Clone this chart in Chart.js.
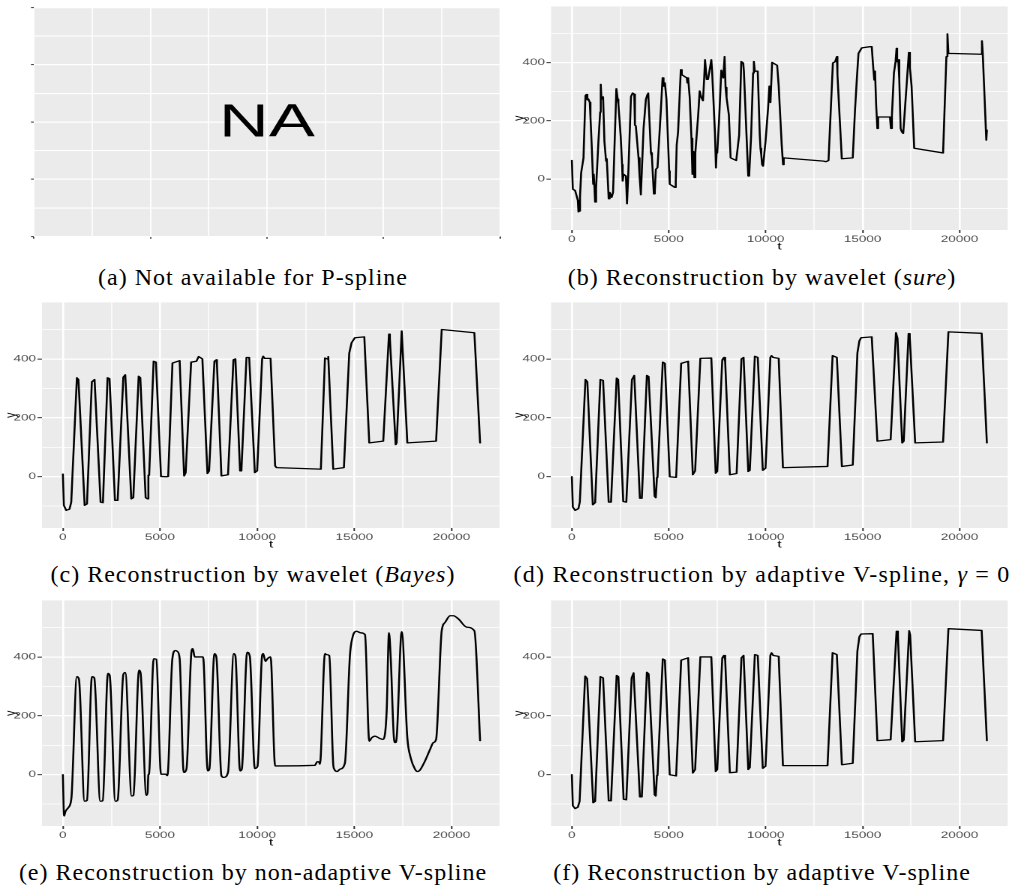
<!DOCTYPE html>
<html>
<head>
<meta charset="utf-8">
<script src="https://cdn.jsdelivr.net/npm/chart.js@4.4.0/dist/chart.umd.min.js"></script>
<style>
  body { margin: 0; background: #fff; width: 1016px; height: 894px; position: relative; overflow: hidden; }
  .panel { position: absolute; transform: scaleX(1.5); transform-origin: 0 0; }
  .cap { position: absolute; width: 508px; text-align: center; font-family: "Liberation Serif", serif;
         font-size: 24px; line-height: 1; letter-spacing: 1px; white-space: nowrap; color: #000; }
</style>
</head>
<body>
<div class="panel" id="pa"><canvas id="ca"></canvas></div>
<div class="panel" id="pb"><canvas id="cb"></canvas></div>
<div class="panel" id="pc"><canvas id="cc"></canvas></div>
<div class="panel" id="pd"><canvas id="cd"></canvas></div>
<div class="panel" id="pe"><canvas id="ce"></canvas></div>
<div class="panel" id="pf"><canvas id="cf"></canvas></div>

<div class="cap" style="left:-1px;top:265px">(a) Not available for P-spline</div>
<div class="cap" style="left:508px;top:265px">(b) Reconstruction by wavelet (<i>sure</i>)</div>
<div class="cap" style="left:-1px;top:562px">(c) Reconstruction by wavelet (<i>Bayes</i>)</div>
<div class="cap" style="left:508px;top:562px;letter-spacing:1.2px">(d) Reconstruction by adaptive V-spline, <i>γ</i>&nbsp;=&nbsp;0</div>
<div class="cap" style="left:-1px;top:860px">(e) Reconstruction by non-adaptive V-spline</div>
<div class="cap" style="left:508px;top:860px">(f) Reconstruction by adaptive V-spline</div>

<script>
// axis breaks
const xTicks = [0, 2500, 5000, 7500, 10000, 12500, 15000, 17500, 20000, 22500];
const xTickLabels = ['0', '', '5000', '', '10000', '', '15000', '', '20000', ''];
const yTicks = [-100, 0, 100, 200, 300, 400, 500];
const yTickLabels = ['', '0', '', '200', '', '400', ''];
const naTicks = [0, 1, 2, 3, 4, 5, 6, 7, 8];
const naMajor = [true, false, true, false, true, false, true, false, true];

// (b) wavelet, sure
const tB = [0, 50, 170, 310, 340, 390, 420, 480, 600, 700, 750, 800, 850, 925, 960, 1030, 1100, 1130, 1200, 1250,
  1370, 1460, 1490, 1525, 1610, 1680, 1765, 1800, 1900, 1950, 2055, 2125, 2295, 2365, 2400, 2520, 2590, 2620, 2670, 2790,
  2845, 2910, 3050, 3135, 3220, 3255, 3300, 3440, 3495, 3560, 3700, 3820, 3905, 3940, 4080, 4130, 4230, 4280, 4335, 4420,
  4590, 4680, 4730, 4800, 4880, 5020, 5050, 5310, 5360, 5410, 5480, 5620, 5670, 5930, 5960, 6000, 6080, 6170, 6220, 6270,
  6320, 6370, 6510, 6595, 6680, 6765, 6820, 6870, 6955, 7025, 7125, 7195, 7240, 7380, 7435, 7470, 7500, 7590, 7710, 7810,
  7880, 7930, 7980, 8100, 8190, 8480, 8630, 8740, 8840, 8875, 9010, 9100, 9150, 9250, 9350, 9390, 9440, 9590, 9695, 9730,
  9770, 9815, 9865, 9990, 10120, 10190, 10245, 10330, 10590, 10670, 10825, 10895, 10930, 12985, 13100, 13240, 13465, 13585, 13670, 13700,
  13925, 14490, 14610, 14700, 14785, 14955, 15380, 15470, 15555, 15600, 15640, 15700, 15760, 15800, 16410, 16460, 16510, 16615, 16700, 16750,
  16780, 16840, 16890, 16960, 17025, 17095, 17265, 17385, 17440, 17525, 17660, 19150, 19320, 19375, 19425, 21120, 21155, 21200, 21380, 21410];
const yB = [64, -34, -39, -73, -112, -109, -60, 22, 73, 286, 290, 272, 275, 263, 213, 106, -17, 17, -78, -30,
  129, 230, 325, 274, 282, 129, 62, 70, -67, -45, -62, -45, 310, 274, 258, 146, 50, -6, 17, 11,
  -84, 17, 283, 295, 291, 185, 183, 73, 11, -53, 174, 274, 291, 295, 90, 78, -50, -40, 34, 40,
  235, 347, 319, 330, 274, 28, -17, -28, -10, 118, 162, 375, 358, 347, 330, 347, 280, 140, 17, 95,
  6, 90, 213, 302, 280, 269, 336, 409, 342, 342, 381, 409, 364, 162, 39, 95, 90, 196, 373, 347,
  420, 314, 280, 220, 73, 64, 151, 403, 398, 370, 151, 11, 17, 151, 364, 403, 370, 370, 151, 106,
  84, 50, 45, 129, 241, 319, 263, 400, 390, 319, 118, 50, 73, 62, 60, 64, 398, 403, 420, 358,
  70, 73, 241, 342, 431, 450, 454, 454, 375, 340, 370, 250, 174, 213, 213, 174, 218, 364, 403, 448,
  403, 409, 342, 174, 162, 157, 319, 434, 381, 319, 106, 90, 420, 498, 431, 428, 474, 426, 134, 168];

// (c) wavelet, Bayes
const tC = [0, 50, 170, 340, 430, 720, 800, 1120, 1240, 1490, 1630, 1940, 2060, 2300, 2400, 2680, 2820, 3110, 3210, 3520,
  3625, 3900, 3985, 4260, 4350, 4400, 4440, 4670, 4790, 5050, 5330, 5420, 5640, 6010, 6240, 6320, 6600, 6870, 6990, 7180,
  7440, 7525, 7800, 7900, 7930, 8160, 8500, 8780, 8880, 9120, 9190, 9450, 9590, 9880, 10000, 10255, 10310, 10380, 10690, 10925,
  10995, 13230, 13280, 13490, 13610, 13660, 13915, 14465, 14740, 14860, 15030, 15515, 15770, 16490, 16785, 16830, 17130, 17180, 17440, 17730,
  19210, 19500, 21180, 21475];
const yC = [9, -97, -114, -110, -86, 336, 330, -97, -92, 322, 330, -86, -88, 336, 333, -80, -80, 338, 346, -75,
  -71, 341, 336, -71, -75, 5, 5, 392, 389, 1, 0, 1, 386, 394, 3, 14, 389, 392, 408, 400,
  11, 20, 392, 397, 381, 3, 7, 397, 400, 20, 23, 405, 405, 14, 20, 400, 409, 402, 402, 37,
  31, 26, 28, 403, 400, 408, 26, 31, 420, 455, 472, 475, 115, 121, 484, 470, 109, 115, 495, 115,
  121, 500, 489, 115];

// (d) adaptive V-spline, gamma = 0
const tD = [0, 50, 170, 340, 410, 700, 800, 1080, 1200, 1470, 1610, 1900, 2020, 2310, 2390, 2650, 2810, 3100, 3220, 3510,
  3610, 3870, 3960, 4270, 4330, 4390, 4420, 4690, 4800, 5050, 5380, 5640, 6000, 6240, 6360, 6630, 7195, 7420, 7500, 7760,
  7850, 7910, 8150, 8500, 8750, 8860, 9100, 9180, 9440, 9590, 9850, 9990, 10240, 10300, 10390, 10670, 10890, 10950, 13190, 13450,
  13670, 13930, 14490, 14730, 14830, 14920, 15470, 15760, 16445, 16720, 16800, 17040, 17120, 17370, 17430, 17710, 19150, 19425, 21140, 21410];
const yD = [0, -103, -114, -108, -86, 330, 322, -95, -88, 330, 327, -86, -86, 335, 330, -84, -86, 330, 344, -73,
  -73, 344, 340, -66, -71, -2, 0, 389, 385, 0, -2, 385, 392, 7, 20, 402, 403, 12, 18, 397,
  405, 390, 7, 11, 400, 405, 18, 22, 409, 405, 22, 29, 405, 411, 405, 402, 31, 31, 35, 411,
  405, 35, 40, 420, 461, 472, 475, 121, 126, 489, 470, 115, 121, 486, 475, 115, 118, 492, 487, 115];

// (e) non-adaptive V-spline
const tE = [0, 60, 130, 200, 300, 380, 450, 720, 825, 1115, 1240, 1495, 1615, 1925, 2050, 2320, 2410, 2700, 2820, 3110,
  3210, 3540, 3630, 3920, 4000, 4295, 4360, 4400, 4430, 4675, 4810, 5050, 5290, 5380, 5635, 5790, 5890, 6010, 6220, 6360,
  6615, 6685, 6785, 7215, 7455, 7540, 7800, 7900, 8160, 8280, 8500, 8795, 8880, 9120, 9210, 9485, 9620, 9880, 10015, 10255,
  10310, 10430, 10530, 10690, 10925, 12970, 13090, 13180, 13230, 13490, 13575, 13710, 13915, 13970, 14120, 14260, 14515, 14775, 14910, 15120,
  15325, 15550, 15770, 15890, 16065, 16320, 16490, 16665, 16785, 16870, 17040, 17110, 17180, 17440, 17730, 17900, 18125, 18245, 18380, 18640,
  18900, 19070, 19210, 19500, 19670, 19930, 20100, 20360, 20790, 21180, 21475];
const yE = [0, -140, -125, -118, -110, -100, -70, 333, 325, -90, -87, 333, 329, -90, -88, 344, 337, -90, -86, 340,
  347, -72, -70, 355, 345, -70, -60, 0, 2, 394, 392, 2, 2, -3, 394, 422, 419, 394, 8, 19,
  416, 428, 400, 400, 13, 19, 411, 400, -3, -9, 8, 411, 403, 13, 19, 416, 403, 21, 28, 405,
  411, 385, 394, 400, 30, 32, 44, 44, 36, 411, 408, 405, 36, 19, 11, 19, 39, 405, 467, 487,
  482, 476, 114, 125, 131, 123, 120, 215, 482, 405, 125, 109, 125, 486, 125, 58, 19, 11, 16, 47,
  86, 109, 120, 489, 517, 540, 540, 529, 501, 489, 116];

// (f) adaptive V-spline
const tF = [0, 50, 170, 310, 400, 685, 790, 1100, 1200, 1470, 1610, 1900, 2020, 2310, 2400, 2670, 2810, 3085, 3185, 3510,
  3610, 3870, 3960, 4270, 4330, 4390, 4420, 4690, 4800, 5050, 5380, 5640, 6000, 6240, 6360, 6630, 7195, 7420, 7500, 7760,
  7850, 7910, 8150, 8500, 8750, 8860, 9100, 9180, 9440, 9590, 9850, 9990, 10240, 10300, 10390, 10670, 10890, 10950, 13190, 13450,
  13670, 13930, 14490, 14730, 14830, 14920, 15520, 15760, 16445, 16750, 16820, 17040, 17120, 17400, 17450, 17710, 19150, 19425, 21140, 21410];
const yF = [0, -105, -115, -110, -90, 335, 326, -95, -90, 333, 329, -88, -88, 337, 333, -83, -85, 329, 346, -75,
  -75, 348, 342, -68, -72, -2, 0, 393, 389, 0, -4, 389, 397, 6, 18, 400, 400, 11, 18, 397,
  405, 390, 7, 9, 397, 405, 18, 24, 408, 405, 22, 29, 405, 414, 405, 402, 31, 31, 31, 414,
  408, 34, 39, 420, 468, 478, 479, 116, 119, 487, 470, 112, 118, 489, 475, 112, 116, 496, 490, 116];

const S = 1.5;           // horizontal stretch of the original figure
const X_RANGE = [-1075, 22500];
const Y_RANGE = [-174, 592];

const panelBg = {
  id: 'panelBg',
  beforeDraw(chart) {
    const { ctx, chartArea: a } = chart;
    ctx.save();
    ctx.fillStyle = '#ebebeb';
    ctx.fillRect(a.left, a.top, a.right - a.left, a.bottom - a.top);
    ctx.restore();
  }
};

const naText = {
  id: 'naText',
  afterDraw(chart) {
    const { ctx, chartArea: a } = chart;
    ctx.save();
    ctx.fillStyle = '#000';
    ctx.font = '46px "Liberation Sans", Arial, sans-serif';
    ctx.textAlign = 'center';
    ctx.textBaseline = 'middle';
    ctx.fillText('NA', (a.left + a.right) / 2, (a.top + a.bottom) / 2 + 2);
    ctx.restore();
  }
};

function axis(ticks, labels, major, range, size, isX, title, widths) {
  return {
    type: 'linear',
    min: range[0],
    max: range[1],
    offset: false,
    afterBuildTicks: s => { s.ticks = ticks.map(v => ({ value: v })); },
    afterFit: s => { if (isX) s.height = size; else s.width = size; },
    ticks: {
      autoSkip: false, maxRotation: 0, padding: 1, color: '#4d4d4d',
      font: { family: '"Liberation Sans", Arial, sans-serif', size: 9 },
      callback: (v, i) => labels[i]
    },
    grid: {
      color: '#ffffff',
      lineWidth: c => major[c.index] ? widths[0] : widths[1],
      drawTicks: true,
      tickLength: title ? 3 : 2,
      tickWidth: 1,
      tickColor: c => major[c.index] ? '#333333' : 'rgba(0,0,0,0)'
    },
    border: { display: false },
    title: title ? {
      display: true, text: title, color: '#000',
      font: { family: '"Liberation Sans", Arial, sans-serif', size: 10.5 },
      padding: { top: 1.5, bottom: 1 }
    } : { display: false }
  };
}

// place a panel: plot rectangle in page pixels
function panel(id, canvasId, colX, plot, t, y, opts) {
  const boxY = Math.max(plot.top - 4, 0);
  const axisH = opts.axisH;
  const boxW = 504;
  const wrap = document.getElementById(id);
  wrap.style.left = colX + 'px';
  wrap.style.top = boxY + 'px';
  wrap.style.width = (boxW / S) + 'px';
  wrap.style.height = (plot.bottom + axisH - boxY) + 'px';

  const yAxisW = (plot.left - colX) / S;
  const padRight = (colX + boxW - plot.right) / S;
  const xMajor = opts.xMajor || xTickLabels.map(l => l !== '');
  const yMajor = opts.yMajor || yTickLabels.map(l => l !== '');
  const xW = opts.xWidths || [1.3, 0.7];
  const yW = opts.yWidths || [1.3, 0.7];

  const datasets = t ? [{
    data: t.map((v, i) => ({ x: v, y: y[i] })),
    borderColor: '#000000',
    borderWidth: 1.3,
    pointRadius: 0,
    tension: 0,
    cubicInterpolationMode: opts.smooth ? 'monotone' : 'default',
    borderJoinStyle: 'round',
    borderCapStyle: 'round'
  }] : [];

  return new Chart(document.getElementById(canvasId), {
    type: 'line',
    data: { datasets },
    options: {
      responsive: true,
      maintainAspectRatio: false,
      animation: false,
      devicePixelRatio: 2,
      parsing: false,
      layout: { padding: { top: plot.top - boxY, right: padRight, left: 0, bottom: 0 } },
      plugins: { legend: { display: false }, tooltip: { enabled: false } },
      scales: {
        x: axis(opts.xTicks || xTicks, opts.xLabels || xTickLabels, xMajor, opts.xRange || X_RANGE, axisH, true, opts.noTitle ? null : 't', xW),
        y: axis(opts.yTicks || yTicks, opts.yLabels || yTickLabels, yMajor, opts.yRange || Y_RANGE, yAxisW, false, opts.noTitle ? null : 'y', yW)
      }
    },
    plugins: opts.na ? [panelBg, naText] : [panelBg]
  });
}

const blank = naTicks.map(() => '');
panel('pa', 'ca', 0, { left: 34, right: 500, top: 5, bottom: 239 }, null, null, {
  axisH: 4, na: true, noTitle: true,
  xTicks: naTicks, xLabels: blank, xMajor: naMajor, xRange: [0, 8], xWidths: [0.9, 0.8],
  yTicks: naTicks, yLabels: blank, yMajor: naMajor, yRange: [0, 8], yWidths: [1.2, 1.1]
});
panel('pb', 'cb', 508, { left: 551, right: 1008, top: 2, bottom: 230 }, tB, yB, { axisH: 24 });
panel('pc', 'cc', 0, { left: 42, right: 500, top: 300, bottom: 528 }, tC, yC, { axisH: 24 });
panel('pd', 'cd', 508, { left: 551, right: 1008, top: 300, bottom: 528 }, tD, yD, { axisH: 24 });
panel('pe', 'ce', 0, { left: 42, right: 500, top: 598, bottom: 826 }, tE, yE, { axisH: 24, smooth: true });
panel('pf', 'cf', 508, { left: 551, right: 1008, top: 598, bottom: 826 }, tF, yF, { axisH: 24 });
</script>
</body>
</html>
